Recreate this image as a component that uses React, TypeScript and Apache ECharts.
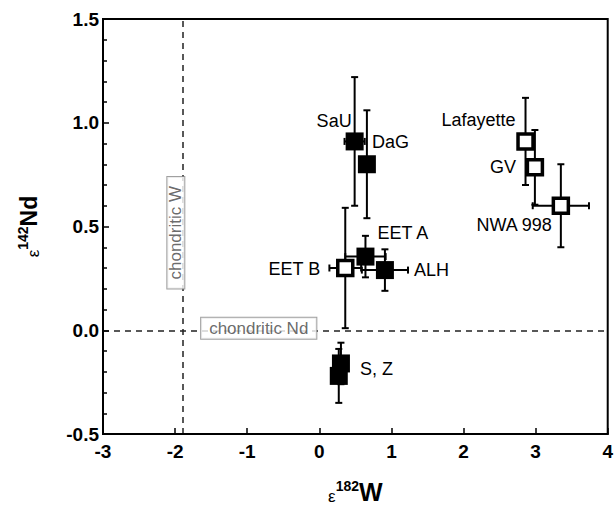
import React, { useEffect, useRef } from 'react';
import * as echarts from 'echarts';

// ---- data ----
const filledNames = ['SaU', 'DaG', 'EET A', 'ALH', 'S, Z', 'Z'];
const filledW = [0.49, 0.66, 0.64, 0.91, 0.30, 0.27];
const filledNd = [0.91, 0.80, 0.355, 0.29, -0.16, -0.22];
const filledWErr = [0.14, 0, 0.28, 0.32, 0, 0];
const filledNdErr = [0.31, 0.26, 0.10, 0.10, 0.10, 0.13];

const openNames = ['EET B', 'Lafayette', 'GV', 'NWA 998'];
const openW = [0.36, 2.86, 2.99, 3.35];
const openNd = [0.30, 0.91, 0.785, 0.60];
const openWErr = [0.22, 0, 0, 0.39];
const openNdErr = [0.29, 0.21, 0.18, 0.20];

const chondriticW = -1.9;
const chondriticNd = 0;

const xTicks = { min: -3, max: 4, interval: 1 };
const yTicks = { min: -0.5, max: 1.5, interval: 0.5 };

// ---- label placement (style only) ----
const labelPlace: Record<string, { align: string; offset: number[] }> = {
  'SaU': { align: 'right', offset: [-3, -20] },
  'DaG': { align: 'left', offset: [5, -22] },
  'EET A': { align: 'left', offset: [12, -24] },
  'ALH': { align: 'left', offset: [29, 0] },
  'S, Z': { align: 'left', offset: [19, 6] },
  'EET B': { align: 'right', offset: [-25, 1] },
  'Lafayette': { align: 'right', offset: [-10, -21] },
  'GV': { align: 'right', offset: [-19, 0] },
  'NWA 998': { align: 'right', offset: [-9, 19] },
};

const FONT = '"Liberation Sans", Arial, Helvetica, sans-serif';

function pointData(names: string[], xs: number[], ys: number[]) {
  return names.map((n, i) => {
    const p = labelPlace[n];
    return {
      name: n,
      value: [xs[i], ys[i]],
      label: p
        ? {
            show: true,
            formatter: n,
            position: 'inside',
            align: p.align,
            verticalAlign: 'middle',
            offset: p.offset,
            color: '#000',
            fontSize: 18,
            fontFamily: FONT,
          }
        : { show: false },
    };
  });
}

const nameRich = (big: number) => ({
  e: { fontSize: 17, fontFamily: FONT, color: '#000', lineHeight: 13, verticalAlign: 'bottom' },
  s: { fontSize: 14, fontWeight: 'bold', fontFamily: FONT, color: '#000', lineHeight: 14, verticalAlign: 'top' },
  b: { fontSize: big, fontWeight: 'bold', fontFamily: FONT, color: '#000', lineHeight: 26, verticalAlign: 'middle' },
});

export default function App() {
  const ref = useRef<HTMLDivElement>(null);
  useEffect(() => {
    document.body.style.margin = '0';
    const chart = echarts.init(ref.current!, undefined, { renderer: 'svg' });

    const errData: number[][] = [];
    filledNames.forEach((_, i) => errData.push([filledW[i], filledNd[i], filledWErr[i], filledNdErr[i]]));
    openNames.forEach((_, i) => errData.push([openW[i], openNd[i], openWErr[i], openNdErr[i]]));

    const axisCommon = {
      axisLine: { onZero: false, lineStyle: { color: '#000', width: 2 } },
      axisTick: { inside: true, length: 6, lineStyle: { color: '#000', width: 1.5 } },
      splitLine: { show: false },
      axisLabel: { color: '#000', fontWeight: 'bold', fontSize: 19, fontFamily: FONT },
      nameLocation: 'middle',
    };

    chart.setOption({
      animation: false,
      grid: {
        left: 103, right: 5, top: 19, bottom: 67,
        show: true, borderColor: '#000', borderWidth: 2, backgroundColor: 'transparent',
      },
      xAxis: {
        type: 'value',
        ...xTicks,
        ...axisCommon,
        axisLabel: { ...axisCommon.axisLabel, margin: 8 },
        name: '{e|ε}{s|182}{b|W}',
        nameGap: 45,
        nameTextStyle: { rich: nameRich(25) },
      },
      yAxis: {
        type: 'value',
        ...yTicks,
        ...axisCommon,
        axisLabel: { ...axisCommon.axisLabel, margin: 4, formatter: (v: number) => v.toFixed(1) },
        minorTick: { show: true, splitNumber: 5, length: 4, lineStyle: { color: '#000', width: 1.5 } },
        minorSplitLine: { show: false },
        name: '{e|ε}{s|142}{b|Nd}',
        nameRotate: 90,
        nameGap: 61,
        nameTextStyle: { rich: nameRich(23) },
      },
      series: [
        {
          type: 'scatter',
          name: 'reference',
          symbolSize: 0,
          silent: true,
          z: 1,
          data: [
            {
              value: [chondriticW - 0.09, 0.47],
              label: {
                show: true, position: 'inside', formatter: 'chondritic W', rotate: 90,
                fontSize: 17, fontFamily: FONT, color: '#444',
                backgroundColor: '#fff', borderColor: '#888', borderWidth: 1, padding: [0, 9, 0, 9],
              },
            },
            {
              value: [-0.84, chondriticNd + 0.01],
              label: {
                show: true, position: 'inside', formatter: 'chondritic Nd',
                fontSize: 17, fontFamily: FONT, color: '#444',
                backgroundColor: '#fff', borderColor: '#888', borderWidth: 1, padding: [2, 8, 2, 8],
              },
            },
          ],
          markLine: {
            silent: true,
            symbol: 'none',
            label: { show: false },
            lineStyle: { color: '#222', width: 1.5, type: [6, 5] },
            data: [{ xAxis: chondriticW }, { yAxis: chondriticNd }],
            z: 0,
          },
        },
        {
          type: 'custom',
          name: 'errors',
          z: 2,
          silent: true,
          data: errData,
          encode: { x: 0, y: 1 },
          renderItem: (params: any, api: any) => {
            const x = api.value(0), y = api.value(1), xe = api.value(2), ye = api.value(3);
            const style = { stroke: '#000', lineWidth: 2 };
            const cap = 3.5;
            const children: any[] = [];
            if (ye > 0) {
              const t = api.coord([x, y + ye]);
              const b = api.coord([x, y - ye]);
              children.push({ type: 'line', shape: { x1: t[0], y1: t[1], x2: b[0], y2: b[1] }, style });
              children.push({ type: 'line', shape: { x1: t[0] - cap, y1: t[1], x2: t[0] + cap, y2: t[1] }, style });
              children.push({ type: 'line', shape: { x1: b[0] - cap, y1: b[1], x2: b[0] + cap, y2: b[1] }, style });
            }
            if (xe > 0) {
              const l = api.coord([x - xe, y]);
              const r = api.coord([x + xe, y]);
              children.push({ type: 'line', shape: { x1: l[0], y1: l[1], x2: r[0], y2: r[1] }, style });
              children.push({ type: 'line', shape: { x1: l[0], y1: l[1] - cap, x2: l[0], y2: l[1] + cap }, style });
              children.push({ type: 'line', shape: { x1: r[0], y1: r[1] - cap, x2: r[0], y2: r[1] + cap }, style });
            }
            return { type: 'group', children };
          },
        },
        {
          type: 'scatter',
          name: 'open',
          symbol: 'rect',
          symbolSize: 15,
          z: 3,
          itemStyle: { color: '#fff', borderColor: '#000', borderWidth: 3.5, opacity: 1 },
          data: pointData(openNames, openW, openNd),
        },
        {
          type: 'scatter',
          name: 'filled',
          symbol: 'rect',
          symbolSize: 18,
          z: 4,
          itemStyle: { color: '#000', opacity: 1 },
          data: pointData(filledNames, filledW, filledNd),
        },
      ],
    });
    return () => chart.dispose();
  }, []);
  return <div ref={ref} style={{ width: 616, height: 510 }} />;
}
